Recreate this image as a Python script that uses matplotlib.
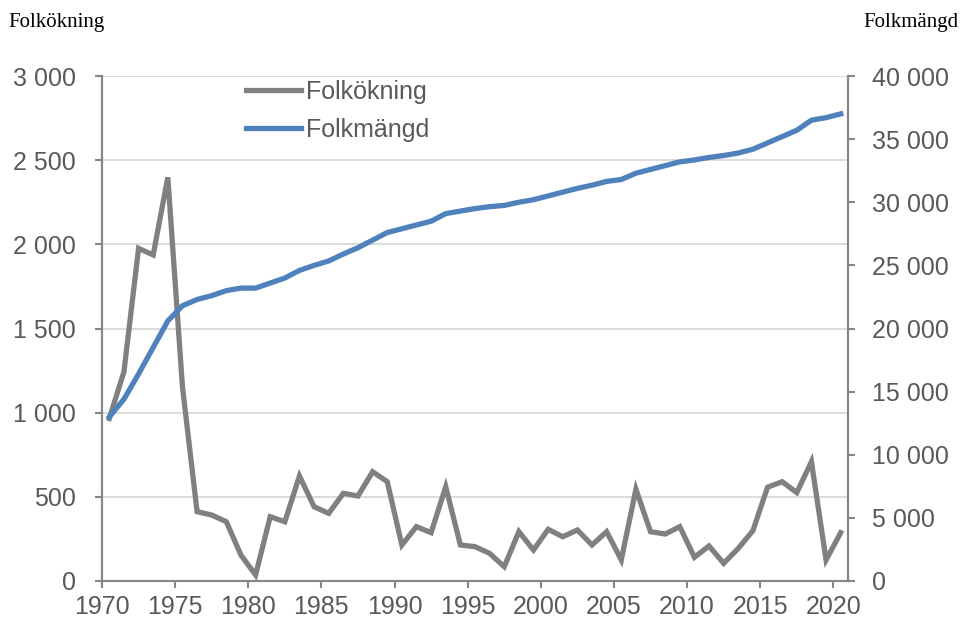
import numpy as np
import matplotlib
matplotlib.use("Agg")
import matplotlib.pyplot as plt
from matplotlib.ticker import FuncFormatter, MultipleLocator

# Data
years = list(range(1970, 2021))

folkokning = [966, 1243, 1976, 1937, 2398, 1154, 412, 392, 352, 154,
              36, 382, 352, 624, 441, 402, 521, 505, 649, 590,
              214, 323, 287, 560, 214, 204, 164, 85, 293, 184,
              307, 263, 303, 214, 293, 125, 545, 293, 279, 323,
              141, 208, 105, 194, 299, 557, 590, 525, 709, 125,
              287]

folkmangd = [13000, 14400, 16400, 18500, 20600, 21800, 22300, 22600, 23000, 23200,
             23200, 23600, 24000, 24600, 25000, 25350, 25900, 26400, 27000, 27600,
             27900, 28200, 28500, 29100, 29300, 29500, 29650, 29750, 30000, 30200,
             30500, 30800, 31100, 31350, 31650, 31800, 32300, 32600, 32900, 33200,
             33350, 33550, 33700, 33900, 34200, 34700, 35200, 35700, 36500, 36700,
             37000]

grey = "#808080"
blue = "#4F81BD"
txt = "#595959"
spine_col = "#868686"

plt.rcParams["font.family"] = ["Liberation Sans", "DejaVu Sans"]

fig = plt.figure(figsize=(9.63, 6.2), dpi=100)
ax = fig.add_axes([102 / 963, 1 - 581 / 620, (848 - 102) / 963, (581 - 76) / 620])
ax2 = ax.twinx()

# points sit in the middle of each year
x = np.array(years) + 0.5
l1, = ax.plot(x, folkokning, color=grey, lw=3.8, solid_joinstyle="miter", zorder=3)
l2, = ax2.plot(x, folkmangd, color=blue, lw=3.8, solid_joinstyle="miter", zorder=3)

ax.set_xlim(1970, 2021)
ax.set_ylim(0, 3000)
ax2.set_ylim(0, 40000)
ax.xaxis.set_major_locator(MultipleLocator(5))
ax.yaxis.set_major_locator(MultipleLocator(500))
ax2.yaxis.set_major_locator(MultipleLocator(5000))

fmt = FuncFormatter(lambda v, p: f"{v:,.0f}".replace(",", " "))
ax.yaxis.set_major_formatter(fmt)
ax2.yaxis.set_major_formatter(fmt)

ax.grid(axis="y", color="#d9d9d9", lw=1.3)
ax.set_axisbelow(True)

for a in (ax, ax2):
    a.spines["top"].set_visible(False)
    for s in ("left", "right", "bottom"):
        a.spines[s].set_color(spine_col)
        a.spines[s].set_linewidth(1.5)
ax.tick_params(axis="y", direction="out", length=5, width=1.5, color=spine_col,
               labelsize=18, labelcolor=txt, pad=14)
ax.tick_params(axis="x", direction="out", length=5, width=1.5, color=spine_col,
               labelsize=18, labelcolor=txt, pad=5)
ax2.tick_params(axis="y", direction="out", length=5, width=1.5, color=spine_col,
                labelsize=18, labelcolor=txt, pad=12)

leg = ax2.legend([l1, l2], ["Folkökning", "Folkmängd"], loc="upper left",
                 bbox_to_anchor=(246 / 963, 1 - 80 / 620), bbox_transform=fig.transFigure,
                 frameon=False, fontsize=18, handlelength=2.2, handletextpad=0.2,
                 labelspacing=0.56, borderpad=0, borderaxespad=0)
for t in leg.get_texts():
    t.set_color(txt)

fig.text(8 / 963, 1 - 27 / 620, "Folkökning", family="Liberation Serif", fontsize=15,
         color="black", ha="left", va="baseline")
fig.text(958 / 963, 1 - 27 / 620, "Folkmängd", family="Liberation Serif", fontsize=15,
         color="black", ha="right", va="baseline")

fig.savefig("out.png", dpi=100)
